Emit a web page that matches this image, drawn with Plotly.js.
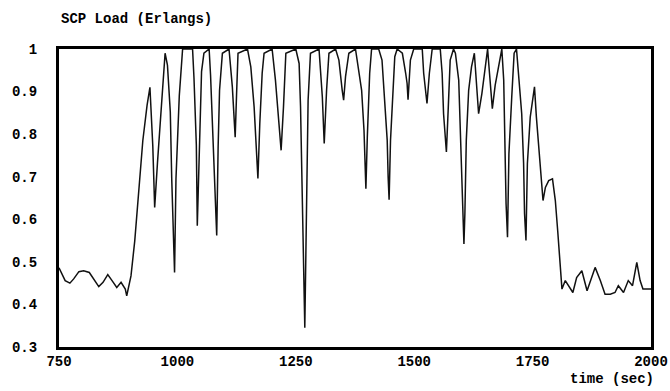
<!DOCTYPE html>
<html>
<head>
<meta charset="utf-8">
<script src="https://cdn.plot.ly/plotly-3.0.1.min.js"></script>
<style>html,body{margin:0;padding:0;background:#fff;}#chart{width:670px;height:391px;}</style>
</head>
<body>
<div id="chart"></div>
<script>
const timeSec = [750,763,773,781,792,802,814,823,834,843,853,862,872,881,890,893,902,910,919,927,936,942,948,952,958,965,971,974,979,985,988,991,994,997,1004,1011,1032,1035,1040,1042,1046,1051,1056,1067,1070,1074,1077,1081,1083,1086,1089,1095,1109,1116,1119,1122,1125,1128,1148,1155,1162,1165,1170,1174,1179,1183,1200,1207,1214,1219,1224,1229,1250,1257,1260,1264,1267,1269,1273,1276,1281,1299,1306,1310,1315,1320,1334,1341,1348,1351,1355,1362,1376,1383,1389,1394,1396,1398,1401,1406,1410,1425,1432,1438,1443,1445,1447,1450,1453,1459,1464,1475,1482,1485,1487,1492,1499,1517,1520,1524,1527,1532,1538,1555,1559,1562,1566,1568,1572,1576,1583,1587,1594,1597,1601,1603,1605,1607,1610,1615,1621,1627,1633,1636,1643,1650,1655,1659,1663,1665,1671,1678,1685,1689,1691,1694,1697,1700,1706,1711,1716,1720,1727,1731,1733,1736,1739,1745,1751,1754,1758,1762,1768,1772,1777,1784,1792,1798,1803,1808,1812,1819,1826,1835,1843,1854,1865,1872,1882,1893,1903,1914,1924,1931,1942,1952,1961,1970,1977,1983,1994,2000];
const loadErl = [0.486,0.456,0.450,0.460,0.477,0.479,0.475,0.460,0.442,0.452,0.470,0.456,0.440,0.452,0.436,0.420,0.467,0.550,0.667,0.785,0.868,0.910,0.774,0.628,0.734,0.852,0.947,0.990,0.962,0.852,0.696,0.555,0.475,0.696,0.890,1.0,1.0,0.932,0.774,0.585,0.774,0.947,0.990,1.0,0.939,0.833,0.723,0.628,0.562,0.770,0.903,0.990,1.0,0.911,0.833,0.793,0.896,0.990,1.0,0.958,0.864,0.786,0.696,0.826,0.943,0.990,1.0,0.927,0.833,0.762,0.864,0.990,1.0,0.966,0.864,0.660,0.448,0.345,0.652,0.880,0.990,1.0,0.888,0.778,0.903,0.990,1.0,0.974,0.903,0.880,0.935,0.990,1.0,0.950,0.903,0.809,0.723,0.672,0.793,0.943,1.0,1.0,0.974,0.880,0.786,0.699,0.646,0.786,0.864,0.982,1.0,0.990,0.943,0.919,0.881,0.974,1.0,1.0,0.943,0.903,0.872,0.943,1.0,1.0,0.943,0.848,0.786,0.758,0.864,0.974,1.0,0.990,0.927,0.825,0.691,0.613,0.542,0.613,0.786,0.903,0.958,0.990,0.903,0.848,0.896,0.958,1.0,0.943,0.880,0.860,0.915,0.955,1.0,0.927,0.778,0.636,0.558,0.754,0.888,0.990,1.0,0.943,0.848,0.731,0.613,0.550,0.731,0.840,0.888,0.911,0.840,0.786,0.707,0.644,0.675,0.691,0.695,0.644,0.573,0.503,0.436,0.456,0.444,0.428,0.463,0.479,0.432,0.456,0.487,0.456,0.424,0.424,0.428,0.444,0.428,0.456,0.444,0.499,0.456,0.436,0.436,0.436];
const xTicks = [750,1000,1250,1500,1750,2000];
const yTicks = [0.3,0.4,0.5,0.6,0.7,0.8,0.9,1];
const yTickText = ['0.3','0.4','0.5','0.6','0.7','0.8','0.9','1'];
const yTitle = 'SCP Load (Erlangs)';
const xTitle = 'time (sec)';

const font = {family: '"Liberation Mono", "Courier New", monospace', size: 14, color: '#000', weight: 'bold'};

Plotly.newPlot('chart', [{
  x: timeSec, y: loadErl, type: 'scatter', mode: 'lines',
  line: {color: '#111', width: 1.5}, hoverinfo: 'skip'
}], {
  width: 670, height: 391,
  margin: {l: 59, r: 19, t: 49, b: 44},
  paper_bgcolor: '#fff', plot_bgcolor: '#fff',
  showlegend: false,
  font: font,
  xaxis: {range: [750, 2000], tickvals: xTicks, ticktext: xTicks.map(String), showgrid: false, zeroline: false,
          showline: true, mirror: true, linecolor: '#000', linewidth: 3, ticks: '', tickfont: font, ticklabelstandoff: -1},
  yaxis: {range: [0.3, 1], tickvals: yTicks, ticktext: yTickText, showgrid: false, zeroline: false,
          showline: true, mirror: true, linecolor: '#000', linewidth: 3, ticks: '', tickfont: font, ticklabelstandoff: 16},
  annotations: [
    {xref: 'paper', yref: 'paper', x: 0, y: 1, xshift: 0, yshift: 30, xanchor: 'left', yanchor: 'middle', text: yTitle, showarrow: false, font: font},
    {xref: 'paper', yref: 'paper', x: 1, y: 0, xshift: 5, yshift: -32, xanchor: 'right', yanchor: 'middle', text: xTitle, showarrow: false, font: font}
  ]
}, {displayModeBar: false, staticPlot: true});
</script>
</body>
</html>
